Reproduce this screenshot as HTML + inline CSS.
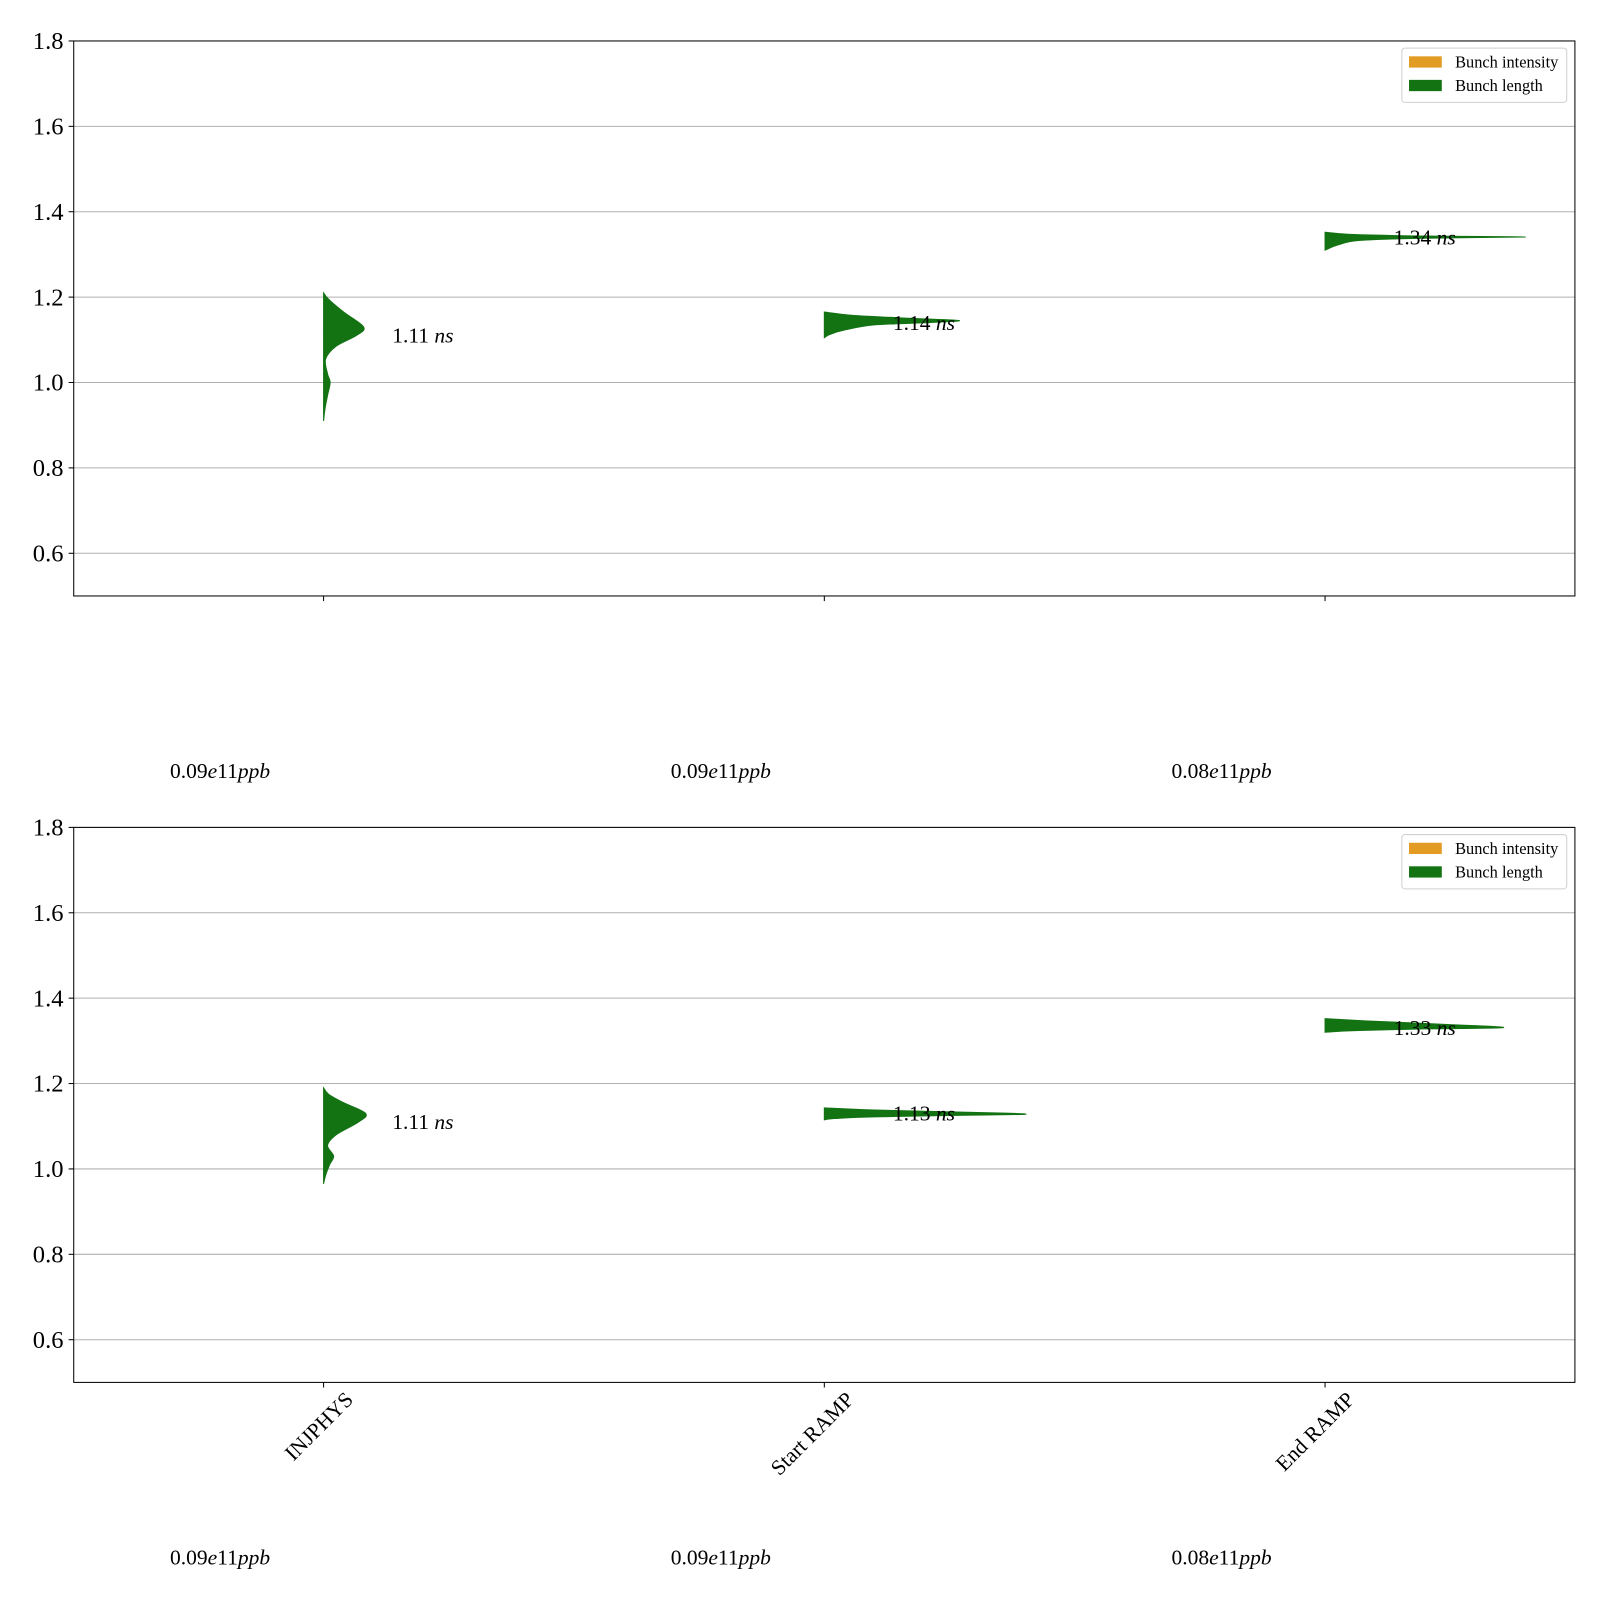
<!DOCTYPE html>
<html><head><meta charset="utf-8"><style>
html,body{margin:0;padding:0;background:#fff}
svg text{font-family:"Liberation Serif",serif}
</style></head><body>
<svg width="1600" height="1600" xmlns="http://www.w3.org/2000/svg"><g id="chart" transform="scale(1.024)"></g></svg>
<script>
const categories = ["INJPHYS","Start RAMP","End RAMP"];
const yTicks = [0.6,0.8,1.0,1.2,1.4,1.6,1.8];
// violin outlines: [density offset (category units), value]
const topViolins = [
  [[0,1.21],[0.01,1.195],[0.04,1.165],[0.08,1.13],[0.065,1.11],[0.025,1.085],[0.004,1.055],[0.008,1.02],[0.013,1.0],[0.008,0.97],[0.003,0.94],[0,0.91]],
  [[0,1.165],[0.06,1.157],[0.18,1.15],[0.27,1.145],[0.2,1.14],[0.1,1.135],[0.04,1.123],[0.01,1.112],[0,1.105]],
  [[0,1.352],[0.05,1.347],[0.2,1.343],[0.40,1.341],[0.2,1.338],[0.07,1.333],[0.025,1.322],[0,1.31]]
];
const bottomViolins = [
  [[0,1.19],[0.01,1.175],[0.04,1.155],[0.084,1.13],[0.07,1.11],[0.025,1.08],[0.008,1.055],[0.02,1.03],[0.012,1.01],[0.004,0.985],[0,0.965]],
  [[0,1.143],[0.1,1.138],[0.35,1.131],[0.40,1.128],[0.3,1.126],[0.1,1.122],[0.02,1.118],[0,1.115]],
  [[0,1.352],[0.08,1.347],[0.25,1.338],[0.356,1.331],[0.2,1.328],[0.06,1.324],[0,1.32]]
];
const topLabels = ["1.11","1.14","1.34"];
const bottomLabels = ["1.11","1.13","1.33"];
const labelValues = [[1.11,1.14,1.34],[1.11,1.13,1.33]];
const intensities = ["0.09","0.09","0.08"];

const NS="http://www.w3.org/2000/svg";
const svg=document.getElementById('chart');
function mk(tag,attrs,parent){const e=document.createElementNS(NS,tag);for(const k in attrs)e.setAttribute(k,attrs[k]);(parent||svg).appendChild(e);return e;}
function smooth(P){
  let d='M'+P[0][0].toFixed(1)+','+P[0][1].toFixed(1);
  for(let i=0;i<P.length-1;i++){
    const p0=P[i-1]||P[i],p1=P[i],p2=P[i+1],p3=P[i+2]||p2;
    const c1=[p1[0]+(p2[0]-p0[0])/6,p1[1]+(p2[1]-p0[1])/6];
    const c2=[p2[0]-(p3[0]-p1[0])/6,p2[1]-(p3[1]-p1[1])/6];
    d+=` C${c1[0].toFixed(1)},${c1[1].toFixed(1)} ${c2[0].toFixed(1)},${c2[1].toFixed(1)} ${p2[0].toFixed(1)},${p2[1].toFixed(1)}`;
  }
  return d+' Z';
}

function panel(top,violins,labels,vals,showX,idx){
  const L=72,R=1538,T=top,B=top+542;
  const yMin=0.5,yMax=1.8;
  const ys=v=>B-(v-yMin)/(yMax-yMin)*(B-T);
  const xs=i=>316+i*489;
  const unit=489;
  const g=mk('g',{});
  
  
  yTicks.forEach(t=>{
    const l=mk('line',{x1:L,x2:R,y1:ys(t),y2:ys(t),stroke:'#b0b0b0','stroke-width':1},g);
    
    
    mk('line',{x1:L-5,x2:L,y1:ys(t),y2:ys(t),stroke:'#000'},g);
    const tx=mk('text',{x:L-10,y:ys(t)+8,'text-anchor':'end','font-size':24},g);
    tx.textContent=t.toFixed(1);
    
    
  });
  violins.forEach((pts,i)=>{
    const P=pts.map(p=>[xs(i)+p[0]*unit,ys(p[1])]);
    const p=mk('path',{d:smooth(P),fill:'#137313',stroke:'#137313','stroke-width':1},g);
    
    
    const t=mk('text',{x:xs(i)+67,y:ys(vals[i])+7,'font-size':21},g);
    t.innerHTML=labels[i]+' <tspan font-style="italic">ns</tspan>';
    
    
    mk('line',{x1:xs(i),x2:xs(i),y1:B,y2:B+5,stroke:'#000'},g);
    const it=mk('text',{x:xs(i)-150,y:B+178,'font-size':21},g);
    it.innerHTML=intensities[i]+'<tspan font-style="italic">e</tspan>11<tspan font-style="italic">ppb</tspan>';
    
    
    if(showX){
      const xl=mk('text',{x:xs(i)+30,y:B+18,'text-anchor':'end','font-size':21,transform:`rotate(-45 ${xs(i)+30} ${B+18})`},g);
      xl.textContent=categories[i];
      
      
    }
  });
  const fr=mk('rect',{x:L,y:T,width:R-L,height:B-T,fill:'none',stroke:'#000','stroke-width':1},g);
  
  
  const lg=mk('g',{},g);
  
  
  mk('rect',{x:1369,y:T+7,width:161,height:53,rx:3,fill:'#fff',stroke:'#d0d0d0'},lg);
  mk('rect',{x:1376,y:T+15,width:32,height:11,fill:'#e39c23'},lg);
  mk('rect',{x:1376,y:T+38,width:32,height:11,fill:'#137313'},lg);
  const a=mk('text',{x:1421,y:T+26,'font-size':16},lg);a.textContent='Bunch intensity';
  
  
  const b=mk('text',{x:1421,y:T+49,'font-size':16},lg);b.textContent='Bunch length';
  
  
}
panel(40,topViolins,topLabels,labelValues[0],false,'top');
panel(808,bottomViolins,bottomLabels,labelValues[1],true,'bottom');
</script>
</body></html>
